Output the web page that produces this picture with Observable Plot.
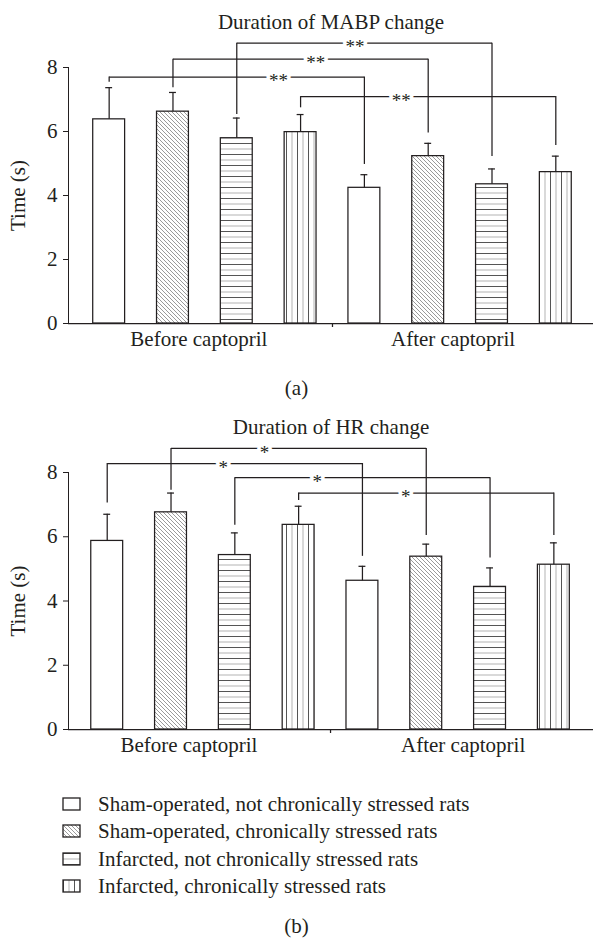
<!DOCTYPE html>
<html>
<head>
<meta charset="utf-8">
<script src="https://cdn.jsdelivr.net/npm/d3@7"></script>
<script src="https://cdn.jsdelivr.net/npm/@observablehq/plot@0.6"></script>
<style>
  html, body { margin: 0; padding: 0; background: #fff; }
  #page { width: 593px; font-family: "Liberation Serif", "Times New Roman", serif; color: #231f20; }
  .cap { text-align: center; font-size: 21px; line-height: 27px; height: 27px; }
  .lg-swatch > svg { margin-right: 18px !important; }
  .lg-swatch svg rect { stroke: #231f20; stroke-width: 1.3; }
</style>
</head>
<body>
<svg width="0" height="0" style="position:absolute">
  <defs>
    <pattern id="fill-diag" patternUnits="userSpaceOnUse" width="4" height="4">
      <rect width="4" height="4" fill="#fff"/>
      <path d="M-1,-1L5,5M3,-1L5,1M-1,3L1,5" stroke="#555" stroke-width="0.6" fill="none"/>
    </pattern>
    <pattern id="fill-horiz" patternUnits="userSpaceOnUse" width="10" height="11">
      <rect width="10" height="11" fill="#fff"/>
      <rect y="0" width="10" height="1" fill="#555"/>
      <rect y="5.5" width="10" height="1" fill="#b3b3b3"/>
    </pattern>
    <pattern id="fill-vert" patternUnits="userSpaceOnUse" width="11" height="10">
      <rect width="11" height="10" fill="#fff"/>
      <rect x="0" width="1" height="10" fill="#555"/>
      <rect x="5.5" width="1" height="10" fill="#b3b3b3"/>
    </pattern>
  </defs>
</svg>
<div id="page"></div>
<script>
// ---- data ----
const groups = [
  "Sham-operated, not chronically stressed rats",
  "Sham-operated, chronically stressed rats",
  "Infarcted, not chronically stressed rats",
  "Infarcted, chronically stressed rats"
];
const phases = ["Before captopril", "After captopril"];
const yTicks = [0, 2, 4, 6, 8];

// (a) Duration of MABP change: 4 groups before, then 4 groups after
const mabpMean = [6.38, 6.62, 5.79, 5.98, 4.24, 5.23, 4.35, 4.73];
const mabpErr  = [0.99, 0.60, 0.63, 0.55, 0.41, 0.40, 0.48, 0.50];
const mabpSigFrom     = [0, 1, 2, 3];
const mabpSigTo       = [4, 5, 6, 7];
const mabpSigLevel    = [7.70, 8.26, 8.76, 7.09];
const mabpSigFromEnd  = [7.54, 7.37, 6.53, 6.74];
const mabpSigToEnd    = [4.97, 5.95, 5.22, 5.56];
const mabpSigText     = ["**", "**", "**", "**"];
const mabpSigLabelAt  = [0.663, 0.559, 0.463, 0.394];

// (b) Duration of HR change
const hrMean = [5.87, 6.76, 5.43, 6.37, 4.63, 5.38, 4.44, 5.13];
const hrErr  = [0.83, 0.60, 0.69, 0.58, 0.45, 0.39, 0.59, 0.68];
const hrSigFrom     = [0, 1, 2, 3];
const hrSigTo       = [4, 5, 6, 7];
const hrSigLevel    = [8.28, 8.75, 7.84, 7.36];
const hrSigFromEnd  = [7.05, 7.45, 6.36, 7.13];
const hrSigToEnd    = [5.39, 6.04, 5.34, 6.04];
const hrSigText     = ["*", "*", "*", "*"];
const hrSigLabelAt  = [0.455, 0.366, 0.323, 0.42];

const groupFills = ["#ffffff", "url(#fill-diag)", "url(#fill-horiz)", "url(#fill-vert)"];

// ---- layout ----
const W = 593, ML = 68, MR = 0, MT = 67;
const PI = 0.5, PO = 0.364;
const ink = "#231f20";
const font = '"Liberation Serif", "Times New Roman", serif';
const keys = phases.flatMap(p => groups.map(g => p + " | " + g));
const step = (W - ML - MR) / (keys.length - PI + 2 * PO);

function chart(o) {
  const rows = o.mean.map((m, i) => ({key: keys[i], group: groups[i % 4], mean: m, top: m + o.err[i]}));
  const sig = o.sigFrom.map((f, i) => ({
    fromKey: keys[f], toKey: keys[o.sigTo[i]], level: o.sigLevel[i],
    fromEnd: o.sigFromEnd[i], toEnd: o.sigToEnd[i], text: o.sigText[i],
    span: o.sigTo[i] - f, at: o.sigLabelAt[i]
  }));
  const phaseRows = phases.map((p, j) => ({label: p, key: keys[j * 4 + 1], shift: o.phaseShift[j]}));
  const line = {stroke: ink, strokeWidth: 1.25};
  return Plot.plot({
    width: W, height: o.height, marginLeft: ML, marginRight: MR, marginTop: MT, marginBottom: o.marginBottom,
    style: {fontFamily: font, fontSize: "21px", color: ink, background: "white", overflow: "visible"},
    x: {type: "band", domain: keys, paddingInner: PI, paddingOuter: PO, align: o.align, round: false, axis: null},
    y: {domain: [0, 8], ticks: yTicks, tickSize: 5, tickPadding: 6, line: true,
        label: "Time (s)", labelAnchor: "center", labelOffset: 58, labelArrow: "none"},
    color: {type: "ordinal", domain: groups, range: groupFills},
    marks: [
      Plot.barY(rows, {x: "key", y: "mean", fill: "group", ...line}),
      Plot.ruleX(rows, {x: "key", y1: "mean", y2: "top", ...line}),
      Plot.tickY(rows, {x: "key", y: "top", insetLeft: 12.5, insetRight: 12.5, ...line}),
      Plot.ruleY([0], line),
      Plot.ruleX([keys[3]], {x: d => d, y1: 0, y2: 0, dx: step / 2, insetBottom: -4, ...line}),
      Plot.ruleX(sig, {x: "fromKey", y1: "level", y2: "fromEnd", ...line}),
      Plot.ruleX(sig, {x: "toKey", y1: "level", y2: "toEnd", ...line}),
      Plot.link(sig, {x1: "fromKey", x2: "toKey", y1: "level", y2: "level", ...line}),
      ...sig.map(s => Plot.text([s], {x: "fromKey", y: "level", text: "text", dx: s.at * s.span * step, dy: 4,
        fill: ink, stroke: "white", strokeWidth: 7, fontSize: 19})),
      ...phaseRows.map(p => Plot.text([p], {x: "key", text: "label", frameAnchor: "bottom", dy: 22, dx: step / 2 + p.shift, fill: ink})),
      Plot.text([o.title], {frameAnchor: "top", dy: -53, fill: ink})
    ]
  });
}

const page = document.getElementById("page");

const chartA = chart({
  title: "Duration of MABP change", mean: mabpMean, err: mabpErr,
  sigFrom: mabpSigFrom, sigTo: mabpSigTo, sigLevel: mabpSigLevel, sigFromEnd: mabpSigFromEnd,
  sigToEnd: mabpSigToEnd, sigText: mabpSigText, sigLabelAt: mabpSigLabelAt,
  height: 365, marginBottom: 42, align: 0.532, phaseShift: [-6, -7]
});
page.append(chartA);

const capA = document.createElement("div");
capA.className = "cap"; capA.style.marginTop = "10px"; capA.textContent = "(a)";
page.append(capA);

const chartB = chart({
  title: "Duration of HR change", mean: hrMean, err: hrErr,
  sigFrom: hrSigFrom, sigTo: hrSigTo, sigLevel: hrSigLevel, sigFromEnd: hrSigFromEnd,
  sigToEnd: hrSigToEnd, sigText: hrSigText, sigLabelAt: hrSigLabelAt,
  height: 365, marginBottom: 41, align: 0.49, phaseShift: [-14, 5]
});
chartB.style.marginTop = "3px";
page.append(chartB);

const legend = Plot.legend({
  color: {type: "ordinal", domain: groups, range: groupFills},
  legend: "swatches", columns: 1, swatchWidth: 17, swatchHeight: 12, marginLeft: 63, className: "lg",
  style: {fontFamily: font, fontSize: "21px", lineHeight: "26.3px", color: ink, paddingTop: "21px", marginBottom: "0px"}
});
page.append(legend);

const capB = document.createElement("div");
capB.className = "cap"; capB.style.marginTop = "13px"; capB.textContent = "(b)";
page.append(capB);
</script>
</body>
</html>
